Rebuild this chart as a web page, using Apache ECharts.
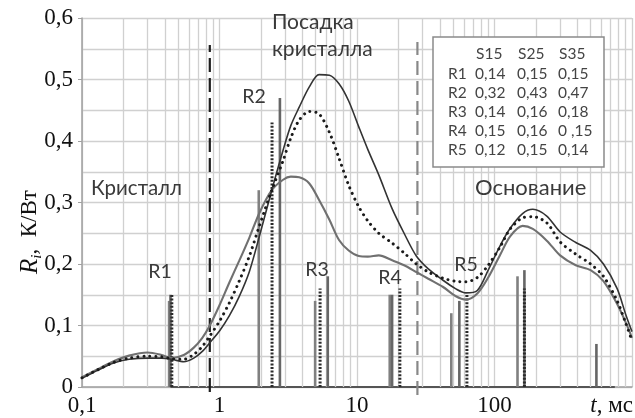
<!DOCTYPE html>
<html>
<head>
<meta charset="utf-8">
<script src="https://cdn.jsdelivr.net/npm/echarts@6/dist/echarts.min.js"></script>
<style>
html,body{margin:0;padding:0;background:#fff;}
#chart{width:635px;height:418px;}
</style>
</head>
<body>
<div id="chart"></div>
<script>
// ---- data ----
const xTickValues = [0.1, 1, 10, 100, 1000];
const xTickLabels = ['0,1', '1', '10', '100', ''];
const yTickValues = [0, 0.1, 0.2, 0.3, 0.4, 0.5, 0.6];
const yTickLabels = ['0', '0,1', '0,2', '0,3', '0,4', '0,5', '0,6'];

const curveT = [0.1, 0.13, 0.17, 0.22, 0.3, 0.38, 0.45, 0.55, 0.65, 0.75, 0.85, 1.0, 1.18, 1.39, 1.65, 1.95, 2.4, 2.9, 3.3, 3.8, 4.5, 5.3, 6.3, 7.4, 8.7, 10.3, 12, 14.4, 18, 22, 27, 33, 42, 52, 62, 75, 90, 110, 130, 160, 190, 240, 300, 390, 500, 620, 780, 900, 1000];
const s15Curve = [0.016, 0.029, 0.042, 0.051, 0.056, 0.052, 0.047, 0.052, 0.064, 0.08, 0.10, 0.133, 0.17, 0.205, 0.243, 0.283, 0.32, 0.337, 0.342, 0.341, 0.331, 0.304, 0.272, 0.239, 0.222, 0.213, 0.212, 0.214, 0.206, 0.198, 0.187, 0.176, 0.163, 0.148, 0.142, 0.152, 0.178, 0.215, 0.245, 0.262, 0.257, 0.238, 0.214, 0.198, 0.19, 0.172, 0.135, 0.105, 0.08];
const s25Curve = [0.015, 0.028, 0.04, 0.047, 0.05, 0.049, 0.046, 0.045, 0.053, 0.066, 0.083, 0.107, 0.137, 0.172, 0.213, 0.262, 0.32, 0.368, 0.405, 0.434, 0.448, 0.444, 0.414, 0.372, 0.328, 0.293, 0.27, 0.25, 0.234, 0.218, 0.2, 0.187, 0.177, 0.172, 0.171, 0.178, 0.198, 0.228, 0.257, 0.275, 0.277, 0.267, 0.236, 0.216, 0.2, 0.18, 0.14, 0.104, 0.075];
const s35Curve = [0.014, 0.027, 0.039, 0.045, 0.047, 0.047, 0.045, 0.041, 0.047, 0.058, 0.072, 0.091, 0.116, 0.147, 0.188, 0.245, 0.32, 0.385, 0.425, 0.455, 0.488, 0.508, 0.507, 0.493, 0.465, 0.423, 0.386, 0.345, 0.29, 0.25, 0.213, 0.192, 0.174, 0.16, 0.153, 0.157, 0.19, 0.23, 0.258, 0.282, 0.289, 0.278, 0.252, 0.235, 0.222, 0.2, 0.16, 0.118, 0.09];

const s15BarT = [0.43, 1.93, 4.96, 17.3, 48.5, 147];
const s15BarV = [0.14, 0.32, 0.14, 0.15, 0.12, 0.18];
const s25BarT = [0.45, 2.41, 5.39, 20.5, 63, 165];
const s25BarV = [0.15, 0.43, 0.16, 0.16, 0.15, 0.16];
const s35BarT = [0.44, 2.75, 6.13, 18.0, 55.5, 165, 551];
const s35BarV = [0.15, 0.47, 0.18, 0.15, 0.14, 0.19, 0.07];
const spectrumBaseline = [[0.44, 0], [750, 0]];

const phaseBounds = [0.85, 27.5];
const phaseBoundTop = [0.556, 0.561];

const tableCols = ['S15', 'S25', 'S35'];
const tableRows = ['R1', 'R2', 'R3', 'R4', 'R5'];
const tableS15 = ['0,14', '0,32', '0,14', '0,15', '0,12'];
const tableS25 = ['0,15', '0,43', '0,16', '0,16', '0,15'];
const tableS35 = ['0,15', '0,47', '0,18', '0 ,15', '0,14'];

// ---- build ----
const zip = (a, b) => a.map((v, i) => [v, b[i]]);
const SERIF = '"Liberation Serif", "DejaVu Serif", serif';
const SANS = 'Lato, "Open Sans", "Noto Sans", sans-serif';
const GRID_C = '#d0d0d0';

const minorX = [];
for (let d = 0.1; d < 999; d *= 10) {
  for (let k = 2; k <= 9; k++) minorX.push({ xAxis: +(k * d).toPrecision(3) });
}

function barSeries(t, v, color, width, dash, z) {
  return {
    type: 'custom', z: z, silent: true,
    data: zip(t, v),
    encode: { x: 0, y: 1 },
    renderItem: function (params, api) {
      const p0 = api.coord([api.value(0), 0]);
      const p1 = api.coord([api.value(0), api.value(1)]);
      return {
        type: 'line',
        shape: { x1: p0[0], y1: p0[1], x2: p1[0], y2: p1[1] },
        style: { stroke: color, lineWidth: width, lineDash: dash || null, fill: null }
      };
    }
  };
}

const tableGraphics = [];
const tx0 = 433, ty0 = 37, tw = 171, th = 130;
tableGraphics.push({ type: 'rect', shape: { x: tx0, y: ty0, width: tw, height: th },
  style: { fill: '#fff', stroke: '#8a8a8a', lineWidth: 1.5 }, z: 50 });
const colX = [476, 518, 559];
const TFONT = '15.5px ' + SANS;
tableCols.forEach((c, i) => tableGraphics.push({ type: 'text', x: colX[i], y: 54, z: 51,
  style: { text: c, font: TFONT, fill: '#444', align: 'left', verticalAlign: 'middle', textAlign: 'left', textVerticalAlign: 'middle' } }));
const rowY = [73.5, 92.5, 111.5, 130.5, 149.5];
const cols = [tableS15, tableS25, tableS35];
tableRows.forEach((r, j) => {
  tableGraphics.push({ type: 'text', x: 448, y: rowY[j], z: 51,
    style: { text: r, font: TFONT, fill: '#444', align: 'left', verticalAlign: 'middle', textAlign: 'left', textVerticalAlign: 'middle' } });
  cols.forEach((col, i) => tableGraphics.push({ type: 'text', x: colX[i] - 1, y: rowY[j], z: 51,
    style: { text: col[j], font: TFONT, fill: '#444', align: 'left', verticalAlign: 'middle', textAlign: 'left', textVerticalAlign: 'middle' } }));
});

function label(text, x, y, size, align) {
  return { type: 'text', x: x, y: y, z: 40,
    style: { text: text, font: size + 'px ' + SANS, fill: '#3a3a3a', align: align || 'center', verticalAlign: 'middle', textAlign: align || 'center', textVerticalAlign: 'middle' } };
}

const chart = echarts.init(document.getElementById('chart'), null, { renderer: 'canvas' });
chart.setOption({
  animation: false,
  backgroundColor: '#fff',
  grid: { left: 82, right: 1, top: 18, bottom: 31 },
  xAxis: {
    type: 'log', logBase: 10, min: 0.1, max: 1000,
    axisLine: { show: true, lineStyle: { color: '#a0a0a0', width: 1.5 } },
    axisTick: { show: false },
    axisLabel: {
      margin: 7, color: '#111', fontFamily: SERIF, fontSize: 23,
      formatter: function (v) {
        for (let i = 0; i < xTickValues.length; i++) if (Math.abs(Math.log10(v) - Math.log10(xTickValues[i])) < 1e-6) return xTickLabels[i];
        return '';
      }
    },
    splitLine: { show: true, lineStyle: { color: GRID_C, width: 1.3 } }
  },
  yAxis: {
    type: 'value', min: 0, max: 0.6, interval: 0.1,
    axisLine: { show: true, lineStyle: { color: '#a0a0a0', width: 1.5 } },
    axisTick: { show: true, length: 4, lineStyle: { color: '#a0a0a0' } },
    axisLabel: {
      margin: 9, color: '#111', fontFamily: SERIF, fontSize: 23,
      formatter: function (v) {
        for (let i = 0; i < yTickValues.length; i++) if (Math.abs(v - yTickValues[i]) < 1e-6) return yTickLabels[i];
        return '';
      }
    },
    splitLine: { show: true, lineStyle: { color: GRID_C, width: 1.3 } },
    minorTick: { show: false, splitNumber: 2 },
    minorSplitLine: { show: true, lineStyle: { color: GRID_C, width: 1.3 } }
  },
  series: [
    { type: 'line', data: [], z: 1, silent: true,
      markLine: { silent: true, symbol: ['none', 'none'], label: { show: false }, animation: false,
        lineStyle: { type: 'solid', color: GRID_C, width: 1.3 }, data: minorX } },
    // spectrum baseline
    { type: 'line', data: spectrumBaseline, z: 4, symbol: 'none', silent: true,
      lineStyle: { color: '#555', width: 2.2 } },
    barSeries(s15BarT, s15BarV, '#808080', 2.6, null, 5),
    barSeries(s35BarT, s35BarV, '#666', 2.6, null, 5),
    barSeries(s25BarT, s25BarV, '#2a2a2a', 3, [2, 1.6], 6),
    // phase boundary dashed lines
    { type: 'line', data: [[phaseBounds[0], -0.008], [phaseBounds[0], phaseBoundTop[0]]], clip: false, z: 7, symbol: 'none', silent: true,
      lineStyle: { color: '#1e1e1e', width: 2.2, type: [14, 6] } },
    { type: 'line', data: [[phaseBounds[1], -0.013], [phaseBounds[1], phaseBoundTop[1]]], clip: false, z: 7, symbol: 'none', silent: true,
      lineStyle: { color: '#888', width: 2.2, type: [14, 6] } },
    // curves
    { type: 'line', data: zip(curveT, s15Curve), smooth: 0.3, symbol: 'none', z: 8, silent: true,
      lineStyle: { color: '#707070', width: 2.1 } },
    { type: 'line', data: zip(curveT, s25Curve), smooth: 0.3, symbol: 'none', z: 9, silent: true,
      lineStyle: { color: '#1a1a1a', width: 3, type: [0.01, 6], cap: 'round' } },
    { type: 'line', data: zip(curveT, s35Curve), smooth: 0.3, symbol: 'none', z: 8, silent: true,
      lineStyle: { color: '#333', width: 1.6 } }
  ],
  graphic: [
    label('Кристалл', 91, 188, 20.5, 'left'),
    label('Посадка', 272, 22, 21, 'left'),
    label('кристалла', 272, 49, 21, 'left'),
    label('Основание', 475, 188, 22, 'left'),
    label('R1', 160, 272, 19.5),
    label('R2', 254, 97, 19.5),
    label('R3', 317, 270, 19.5),
    label('R4', 390, 278, 19.5),
    label('R5', 466, 265, 19.5),
    { type: 'text', x: 633, y: 406, z: 40,
      style: { text: '{it|t}, мс', font: '23px ' + SERIF, fill: '#111', align: 'right', verticalAlign: 'middle', textAlign: 'right', textVerticalAlign: 'middle',
        rich: { it: { fontFamily: SERIF, fontSize: 23, fontStyle: 'italic', fill: '#111' } } } },
    { type: 'text', x: 30, y: 232, rotation: Math.PI / 2, z: 40,
      style: { text: '{r|R}{i|i}{n|,  К/Вт}', align: 'center', verticalAlign: 'middle', textAlign: 'center', textVerticalAlign: 'middle',
        rich: {
          r: { fontFamily: SERIF, fontSize: 25, fontStyle: 'italic', fill: '#111', verticalAlign: 'middle', lineHeight: 30 },
          i: { fontFamily: SERIF, fontSize: 15, fontStyle: 'italic', fill: '#111', verticalAlign: 'bottom', lineHeight: 30 },
          n: { fontFamily: SERIF, fontSize: 23, fill: '#111', verticalAlign: 'middle', lineHeight: 30 }
        } } }
  ].concat(tableGraphics)
});
</script>
</body>
</html>
